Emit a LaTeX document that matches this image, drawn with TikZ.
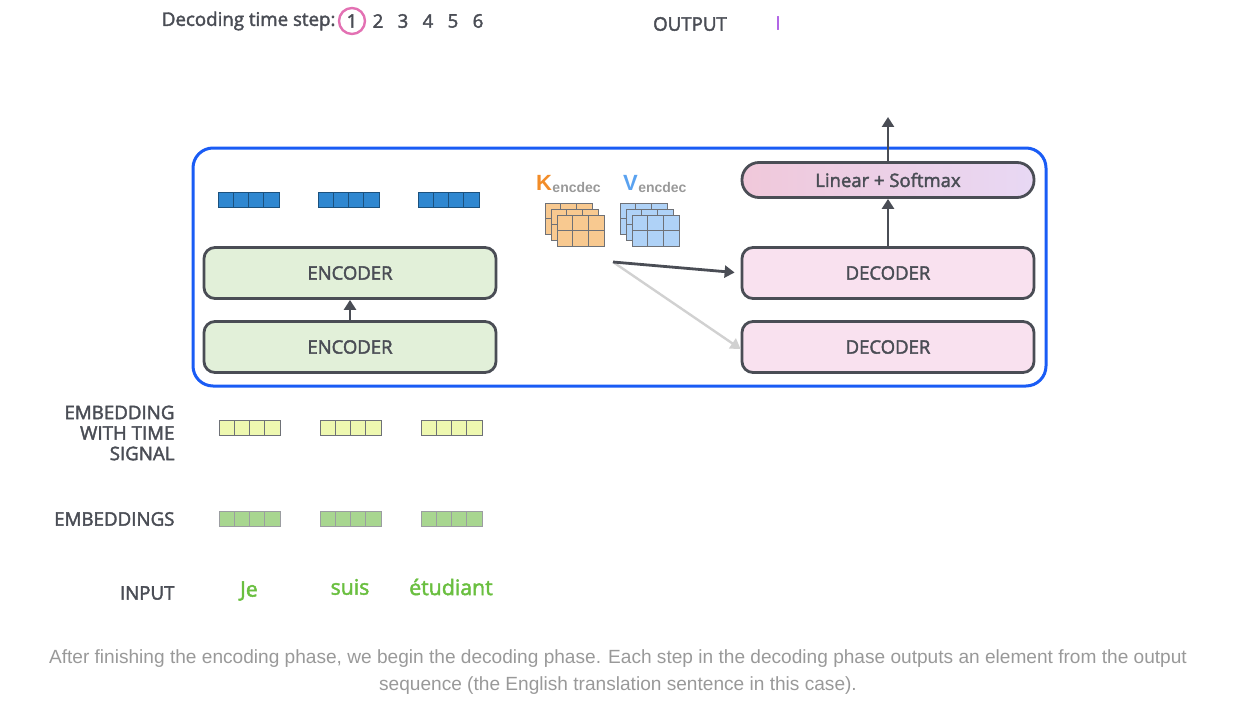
\documentclass[tikz,border=0pt]{standalone}
\usepackage{fontspec}
\setmainfont{Open Sans}[UprightFeatures={FakeBold=2.2}]
\newfontfamily\capfont{Liberation Sans}
\usetikzlibrary{arrows.meta}

\definecolor{txtgray}{HTML}{4A4D55}
\definecolor{framblue}{HTML}{1A5CF5}
\definecolor{encgreen}{HTML}{E2F0D9}
\definecolor{decpink}{HTML}{F9E1EF}
\definecolor{linleft}{HTML}{F0C8DA}
\definecolor{linright}{HTML}{E8D8F4}
\definecolor{vecblue}{HTML}{2F87D0}
\definecolor{vecyellow}{HTML}{EEF8B0}
\definecolor{vecgreen}{HTML}{A8D690}
\definecolor{wordgreen}{HTML}{6ABF40}
\definecolor{kcol}{HTML}{F28C28}
\definecolor{kfill}{HTML}{F8C990}
\definecolor{vcol}{HTML}{5AA2F0}
\definecolor{vfill}{HTML}{AFD2F7}
\definecolor{stepring}{HTML}{E371B3}
\definecolor{outpurple}{HTML}{B266E6}
\definecolor{capgray}{HTML}{999999}

\begin{document}
\begin{tikzpicture}[x=1pt,y=-1pt,
    block/.style={draw=txtgray,line width=2.8pt,rounded corners=11pt,
        minimum width=292pt,minimum height=51pt,text=txtgray,
        font=\fontsize{18.5}{22}\selectfont},
    arr/.style={draw=txtgray,line width=2.8pt,-{Triangle[length=10pt,width=12pt]}},
    lbl/.style={text=txtgray,font=\fontsize{18.7}{20.5}\selectfont,align=right,anchor=east},
    num/.style={text=txtgray,font=\fontsize{18.7}{22}\selectfont},
    word/.style={text=wordgreen,font=\fontsize{21.3}{24}\selectfont},
    cell/.style={draw=txtgray!80,line width=0.9pt}]
\useasboundingbox (0,0) rectangle (1236,706);

% top line
\node[lbl] (steplbl) at (339,21) {Decoding time step:};
\node[num,draw=stepring,circle,line width=2.4pt,minimum size=26pt,inner sep=0pt] (t1) at (352,21) {1};
\foreach \n/\x in {2/378,3/403,4/428,5/453,6/478}
    \node[num] (t\n) at (\x,21) {\n};
\node[num] (outlbl) at (690,24) {OUTPUT};
\node[num,text=outpurple] (outword) at (778,23) {I};

% big frame
\draw[framblue,line width=3pt,rounded corners=20pt] (193,148) rectangle (1046,386);

% encoders and decoders
\node[block,fill=encgreen] (enc1) at (350,347) {ENCODER};
\node[block,fill=encgreen] (enc2) at (350,273) {ENCODER};
\node[block,fill=decpink] (dec1) at (888,347) {DECODER};
\node[block,fill=decpink] (dec2) at (888,273) {DECODER};
\node[block,rounded corners=17pt,minimum height=35pt,
    left color=linleft,right color=linright] (lin) at (888,180) {Linear + Softmax};
\coordinate (out) at (888,117);

\draw[arr] (enc1.north) -- (enc2.south);
\draw[arr] (dec2.north) -- (lin.south);
\draw[arr] (lin.north) -- (out);

% encoder output vectors
\foreach \x in {218,318,418}
    \foreach \i in {0,...,3}
        \filldraw[fill=vecblue,draw=vecblue!60!black,line width=0.9pt]
            (\x+\i*15.25,192) rectangle ++(15.25,15);

% K and V of encoder-decoder attention
\node[anchor=base west,inner sep=0pt,text=kcol,font=\fontsize{22}{24}\bfseries\capfont] (klbl) at (536,190) {K};
\node[anchor=base west,inner sep=0pt,text=capgray,font=\fontsize{14}{16}\bfseries\capfont] (kidx) at (klbl.base east) {\raisebox{-2pt}{encdec}};
\node[anchor=base west,inner sep=0pt,text=vcol,font=\fontsize{22}{24}\bfseries\capfont] (vlbl) at (623,190) {V};
\node[anchor=base west,inner sep=0pt,text=capgray,font=\fontsize{14}{16}\bfseries\capfont] (vidx) at (vlbl.base east) {\raisebox{-2pt}{encdec}};
\foreach \k in {0,1,2} {
    \filldraw[cell,fill=kfill] (545+6*\k,203+6*\k) rectangle ++(47,31);
    \draw[cell] (545+6*\k+15.67,203+6*\k) -- ++(0,31)
        (545+6*\k+31.33,203+6*\k) -- ++(0,31)
        (545+6*\k,203+6*\k+15.5) -- ++(47,0);
    \filldraw[cell,fill=vfill] (620+6*\k,203+6*\k) rectangle ++(47,31);
    \draw[cell] (620+6*\k+15.67,203+6*\k) -- ++(0,31)
        (620+6*\k+31.33,203+6*\k) -- ++(0,31)
        (620+6*\k,203+6*\k+15.5) -- ++(47,0);
}
\coordinate (kv) at (613,262);
\draw[arr,draw=black!18,line width=2.4pt] (kv) -- ([yshift=-2pt]dec1.west);
\draw[arr,shorten >=6pt] (kv) -- (dec2.west);

% left labels
\node[lbl] (embtime) at (178,433) {EMBEDDING\\WITH TIME\\SIGNAL};
\node[lbl] (emb) at (178,519) {EMBEDDINGS};
\node[lbl] (inp) at (178,593) {INPUT};

% embedding vectors
\foreach \x in {219,320,421}
    \foreach \i in {0,...,3} {
        \filldraw[cell,fill=vecyellow] (\x+\i*15.25,420) rectangle ++(15.25,15);
        \filldraw[cell,draw=txtgray!55,fill=vecgreen] (\x+\i*15.25,511) rectangle ++(15.25,15);
    }

% input words
\node[word] (w1) at (249,591) {Je};
\node[word] (w2) at (350,587) {suis};
\node[word] (w3) at (451,587) {étudiant};

% caption
\node[text=capgray,font=\fontsize{19.1}{22}\capfont] (cap1) at (618,659)
    {After finishing the encoding phase, we begin the decoding phase. Each step in the decoding phase outputs an element from the output};
\node[text=capgray,font=\fontsize{19.1}{22}\capfont] (cap2) at (618,686)
    {sequence (the English translation sentence in this case).};
\end{tikzpicture}
\end{document}
